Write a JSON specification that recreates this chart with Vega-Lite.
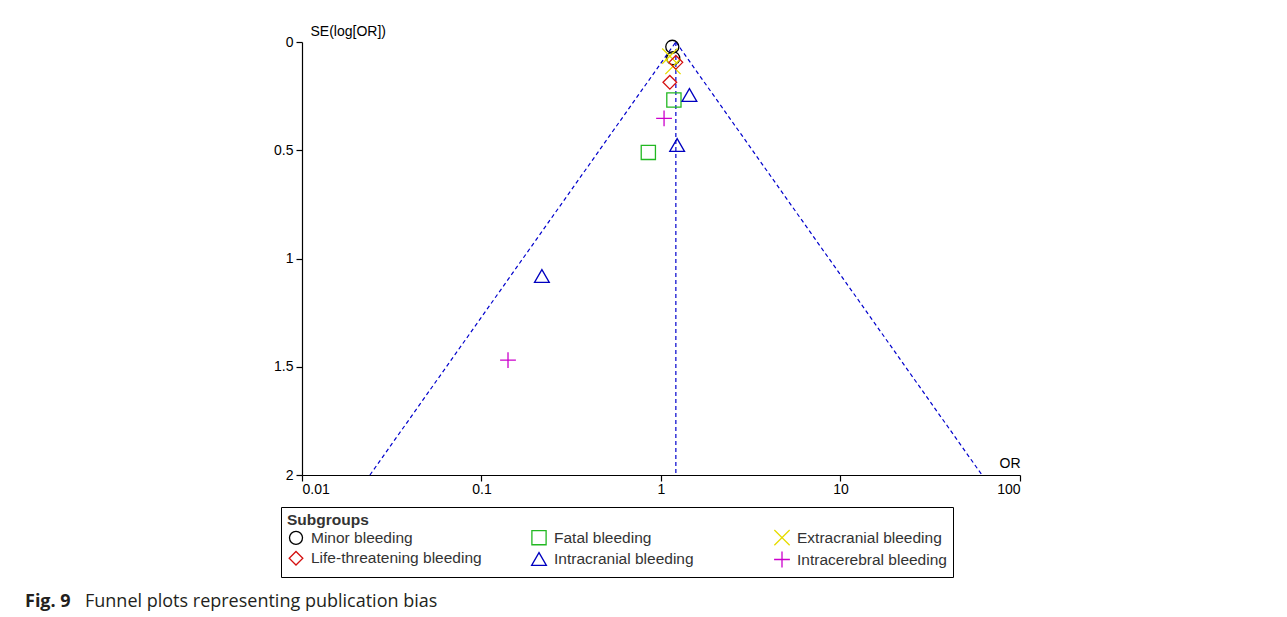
{
  "$schema": "https://vega.github.io/schema/vega-lite/v6.json",
  "width": 718,
  "height": 433,
  "autosize": "none",
  "padding": {"left": 302, "top": 42, "right": 267, "bottom": 142},
  "background": "white",
  "title": {
    "text": "Fig. 9",
    "subtitle": "\u200b\u2003\u2003\u2003\u2004Funnel plots representing publication bias",
    "orient": "bottom",
    "anchor": "start",
    "frame": "group",
    "dx": -277,
    "offset": 15,
    "font": "Open Sans",
    "fontSize": 18,
    "fontWeight": "bold",
    "color": "#231f20",
    "subtitleFont": "Open Sans",
    "subtitleFontSize": 18,
    "subtitleFontWeight": "normal",
    "subtitleColor": "#231f20",
    "subtitlePadding": -18
  },
  "config": {
    "view": {"stroke": null},
    "font": "Liberation Sans",
    "axis": {
      "domainColor": "black",
      "tickColor": "black",
      "labelColor": "black",
      "titleColor": "black",
      "labelFont": "Liberation Sans",
      "titleFont": "Liberation Sans",
      "labelFontSize": 14,
      "titleFontSize": 14,
      "titleFontWeight": "normal",
      "grid": false,
      "tickSize": 6,
      "domainWidth": 1.2,
      "tickWidth": 1.2
    }
  },
  "datasets": {
    "studies": [
      {"subgroup": "Minor bleeding", "or": 1.156, "se": 0.022},
      {"subgroup": "Minor bleeding", "or": 1.17, "se": 0.075},
      {"subgroup": "Extracranial bleeding", "or": 1.12, "se": 0.065},
      {"subgroup": "Extracranial bleeding", "or": 1.166, "se": 0.113},
      {"subgroup": "Life-threatening bleeding", "or": 1.21, "se": 0.094},
      {"subgroup": "Life-threatening bleeding", "or": 1.12, "se": 0.186},
      {"subgroup": "Fatal bleeding", "or": 1.18, "se": 0.268},
      {"subgroup": "Fatal bleeding", "or": 0.85, "se": 0.51},
      {"subgroup": "Intracranial bleeding", "or": 1.44, "se": 0.245},
      {"subgroup": "Intracranial bleeding", "or": 1.23, "se": 0.476},
      {"subgroup": "Intracranial bleeding", "or": 0.217, "se": 1.081},
      {"subgroup": "Intracerebral bleeding", "or": 1.04, "se": 0.353},
      {"subgroup": "Intracerebral bleeding", "or": 0.1405, "se": 1.469}
    ],
    "funnel": [
      {"part": "left", "or": 1.21, "se": 0},
      {"part": "left", "or": 0.0239, "se": 2},
      {"part": "right", "or": 1.21, "se": 0},
      {"part": "right", "or": 61.4, "se": 2},
      {"part": "center", "or": 1.21, "se": 0},
      {"part": "center", "or": 1.21, "se": 2}
    ]
  },
  "layer": [
    {
      "data": {"name": "funnel"},
      "mark": {"type": "line", "color": "#0000cc", "strokeDash": [4, 3], "strokeWidth": 1.2},
      "encoding": {
        "x": {"field": "or", "type": "quantitative"},
        "y": {"field": "se", "type": "quantitative"},
        "detail": {"field": "part", "type": "nominal"}
      }
    },
    {
      "data": {"name": "studies"},
      "mark": {"type": "point", "filled": false, "strokeWidth": 1.3, "opacity": 1},
      "encoding": {
        "x": {
          "field": "or",
          "type": "quantitative",
          "scale": {"type": "log", "domain": [0.01, 100], "nice": false},
          "axis": {
            "values": [0.01, 0.1, 1, 10, 100],
            "labelExpr": "datum.value",
            "title": "OR",
            "titleX": 718,
            "titleY": -5,
            "titleAlign": "right",
            "titleBaseline": "bottom",
            "labelPadding": 1
          }
        },
        "y": {
          "field": "se",
          "type": "quantitative",
          "scale": {"domain": [0, 2], "reverse": true, "nice": false, "zero": false},
          "axis": {
            "values": [0, 0.5, 1, 1.5, 2],
            "labelExpr": "datum.value",
            "title": "SE(log[OR])",
            "titleAngle": 0,
            "titleX": 8,
            "titleY": -4,
            "titleAlign": "left",
            "titleBaseline": "bottom",
            "labelPadding": 3
          }
        },
        "color": {
          "field": "subgroup",
          "type": "nominal",
          "scale": {
            "domain": ["Minor bleeding", "Life-threatening bleeding", "Fatal bleeding", "Intracranial bleeding", "Extracranial bleeding", "Intracerebral bleeding"],
            "range": ["#000000", "#d41010", "#22b822", "#0000c0", "#e6dc00", "#cc00cc"]
          },
          "legend": {
            "title": "Subgroups",
            "orient": "none",
            "legendX": -21,
            "legendY": 465,
            "columns": 3,
            "gridAlign": "all",
            "columnPadding": 46,
            "rowPadding": 0,
            "padding": 6,
            "strokeColor": "black",
            "titleFontWeight": "bold",
            "titleFontSize": 15.5,
            "titleColor": "#333333",
            "titlePadding": 0,
            "labelFontSize": 15.5,
            "labelLimit": 400,
            "labelColor": "#333333",
            "labelFont": "Liberation Sans",
            "titleFont": "Liberation Sans",
            "symbolStrokeWidth": 1.3,
            "labelOffset": 6
          }
        },
        "shape": {
          "field": "subgroup",
          "type": "nominal",
          "scale": {
            "domain": ["Minor bleeding", "Life-threatening bleeding", "Fatal bleeding", "Intracranial bleeding", "Extracranial bleeding", "Intracerebral bleeding"],
            "range": ["circle", "diamond", "square", "triangle-up", "M-1,-1L1,1M-1,1L1,-1", "M0,-1L0,1M-1,0L1,0"]
          }
        },
        "size": {
          "field": "subgroup",
          "type": "nominal",
          "scale": {
            "domain": ["Minor bleeding", "Life-threatening bleeding", "Fatal bleeding", "Intracranial bleeding", "Extracranial bleeding", "Intracerebral bleeding"],
            "range": [170, 250, 150, 290, 130, 130]
          }
        }
      }
    }
  ]
}
